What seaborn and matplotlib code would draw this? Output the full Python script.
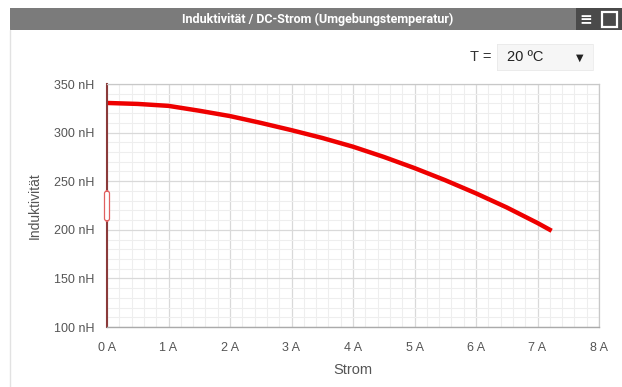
import numpy as np
import pandas as pd
import seaborn as sns
import matplotlib.pyplot as plt
from matplotlib.patches import Rectangle, FancyBboxPatch
from matplotlib.lines import Line2D
from matplotlib.ticker import MultipleLocator

# values
strom = [0, 0.5, 1, 1.5, 2, 2.5, 3, 3.5, 4, 4.5, 5, 5.5, 6, 6.5, 7, 7.23]
induktivitaet = [330.5, 329.5, 327.5, 322.5, 317, 310, 302.5, 294.5, 285.5,
                 275, 263.5, 251, 237.5, 223, 207, 199]
x_ticks = [0, 1, 2, 3, 4, 5, 6, 7, 8]
y_ticks = [100, 150, 200, 250, 300, 350]

title = 'Induktivität / DC-Strom (Umgebungstemperatur)'
temp_label = '20 ºC'

df = pd.DataFrame({'Strom': strom, 'Induktivitaet': induktivitaet})

sns.set_style("white")
plt.rcParams['font.family'] = ['Liberation Sans', 'DejaVu Sans']

W, H = 622, 387
fig = plt.figure(figsize=(W / 100, H / 100), dpi=100)
ax = fig.add_axes([107 / W, 1 - 327 / H, (599 - 107) / W, (327 - 84) / H])

# grid
ax.xaxis.set_minor_locator(MultipleLocator(0.2))
ax.yaxis.set_minor_locator(MultipleLocator(10))
ax.grid(which='minor', color='#eeeeee', linewidth=0.8)
ax.grid(which='major', color='#d9d9d9', linewidth=0.9)
ax.set_axisbelow(True)

sns.lineplot(data=df, x='Strom', y='Induktivitaet', ax=ax,
             color='#ee0000', linewidth=3.2, solid_capstyle='butt')

ax.set_xlim(0, 8)
ax.set_ylim(100, 350)
ax.set_xticks(x_ticks)
ax.set_xticklabels([f'{t} A' for t in x_ticks])
ax.set_yticks(y_ticks)
ax.set_yticklabels([f'{t} nH' for t in y_ticks])
ax.tick_params(axis='both', which='major', labelsize=9, colors='#666666',
               labelcolor='#555555', length=5, width=0.9, direction='out')
ax.tick_params(axis='both', which='minor', length=0)
ax.tick_params(axis='x', pad=6)
ax.tick_params(axis='y', pad=4)

ax.set_xlabel('Strom', fontsize=10.5, color='#555555', labelpad=6)
ax.set_ylabel('Induktivität', fontsize=10, color='#555555', labelpad=9)

for side in ['top', 'right']:
    ax.spines[side].set_color('#c8c8c8')
    ax.spines[side].set_linewidth(0.9)
ax.spines['bottom'].set_color('#aaaaaa')
ax.spines['bottom'].set_linewidth(1.0)
ax.spines['left'].set_color('#8a3a3a')
ax.spines['left'].set_linewidth(1.5)

# small handle on the y axis
fig.patches.append(FancyBboxPatch((104.5 / W, 1 - 221 / H), 5 / W, 30 / H,
                                  boxstyle='round,pad=0,rounding_size=0.006',
                                  transform=fig.transFigure, facecolor='white',
                                  edgecolor='#e06060', linewidth=0.9, zorder=5))

# header bar
fig.patches.append(Rectangle((10 / W, 1 - 30 / H), (576 - 10) / W, 22 / H,
                             transform=fig.transFigure, facecolor='#7b7b7b',
                             edgecolor='none'))
fig.patches.append(Rectangle((576 / W, 1 - 30 / H), (W - 576) / W, 22 / H,
                             transform=fig.transFigure, facecolor='#4a4a4a',
                             edgecolor='none'))
fig.text(318 / W, 1 - 19 / H, title, ha='center', va='center', color='white',
         fontsize=9, fontweight='bold', family=['Roboto', 'DejaVu Sans'])
fig.text(586 / W, 1 - 19.5 / H, '≡', ha='center', va='center', color='white',
         fontsize=11, fontweight='bold', family=['DejaVu Sans'])
fig.patches.append(Rectangle((602 / W, 1 - 27 / H), 15 / W, 15 / H,
                             transform=fig.transFigure, facecolor='none',
                             edgecolor='white', linewidth=1.6))

# container border
fig.lines.append(Line2D([10 / W, 10 / W], [0, 1 - 30 / H],
                        transform=fig.transFigure, color='#e2e2e2', linewidth=1))

# temperature selector
fig.text(481 / W, 1 - 57 / H, 'T =', ha='center', va='center', color='#333333',
         fontsize=10.5)
fig.patches.append(Rectangle((497 / W, 1 - 71 / H), 96 / W, 27 / H,
                             transform=fig.transFigure, facecolor='#dcdcdc',
                             edgecolor='none'))
fig.patches.append(Rectangle((497 / W, 1 - 70 / H), 96 / W, 26 / H,
                             transform=fig.transFigure, facecolor='#f6f6f6',
                             edgecolor='#ececec', linewidth=0.6))
fig.text(507 / W, 1 - 57 / H, temp_label, ha='left', va='center',
         color='#222222', fontsize=10.5)
fig.text(580 / W, 1 - 58 / H, '▼', ha='center', va='center', color='#222222',
         fontsize=7, family=['DejaVu Sans'])

fig.savefig('out.png', dpi=100)
